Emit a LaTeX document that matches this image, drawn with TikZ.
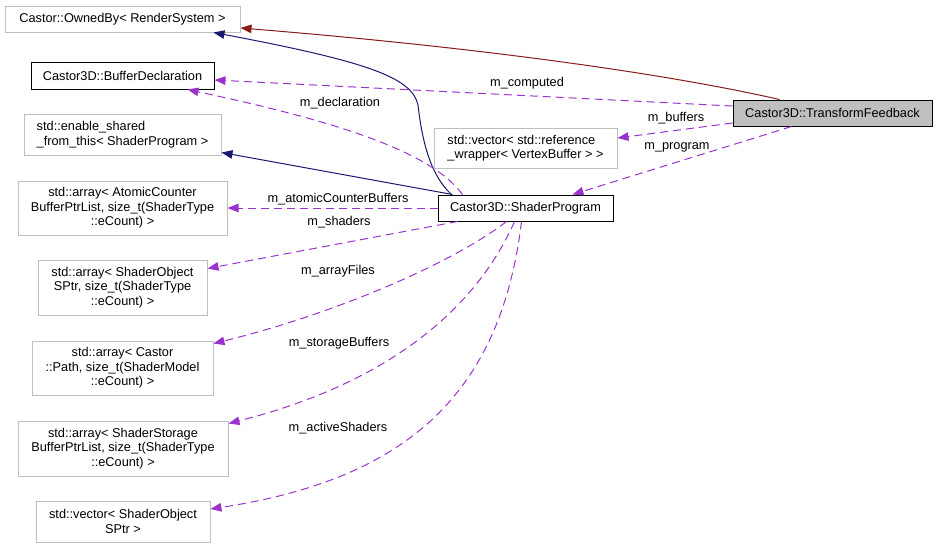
\documentclass[tikz,border=0pt]{standalone}
\usepackage{fontspec}
\setmainfont{Liberation Sans}
\usetikzlibrary{arrows.meta,calc}
\definecolor{navyc}{RGB}{25,25,112}
\definecolor{redc}{RGB}{139,26,26}
\definecolor{purc}{RGB}{154,50,205}
\definecolor{grayb}{RGB}{191,191,191}
\begin{document}
\begin{tikzpicture}[x=1pt,y=-1pt,
  every node/.style={font=\fontsize{12.75}{14.5}\selectfont},
  cbox/.style={draw=grayb,line width=1pt,rectangle,inner sep=0pt,align=center,fill=white},
  kbox/.style={cbox,draw=black},
  lbl/.style={inner sep=0pt},
  inh/.style={draw=navyc,line width=1pt,-{Triangle[length=11pt,width=8.5pt]}},
  inhr/.style={draw=redc,line width=1pt,-{Triangle[length=11pt,width=8.5pt]}},
  usg/.style={draw=purc,line width=1pt,dash pattern=on 8pt off 5pt,-{Triangle[length=11pt,width=8.5pt,fill=purc]}}
]
\useasboundingbox (0,0) rectangle (937,547);
% nodes
\node[cbox,minimum width=235pt,minimum height=26pt] (own) at (122.5,19) {Castor::OwnedBy< RenderSystem >};
\node[kbox,minimum width=183pt,minimum height=27pt] (bd) at (122.5,75.5) {Castor3D::BufferDeclaration};
\node[cbox,minimum width=197pt,minimum height=41pt,align=left] (esf) at (122.5,134.5) {std::enable\_shared\\\_from\_this< ShaderProgram >};
\node[cbox,minimum width=209pt,minimum height=54pt] (acb) at (122.5,208) {std::array< AtomicCounter\\BufferPtrList, size\_t(ShaderType\\::eCount) >};
\node[cbox,minimum width=169pt,minimum height=55pt] (soa) at (122.5,287.5) {std::array< ShaderObject\\SPtr, size\_t(ShaderType\\::eCount) >};
\node[cbox,minimum width=181pt,minimum height=54pt] (cp) at (122.5,368) {std::array< Castor\\::Path, size\_t(ShaderModel\\::eCount) >};
\node[cbox,minimum width=210pt,minimum height=55pt] (ssb) at (123,448.5) {std::array< ShaderStorage\\BufferPtrList, size\_t(ShaderType\\::eCount) >};
\node[cbox,minimum width=174pt,minimum height=41pt] (vso) at (123,521.5) {std::vector< ShaderObject\\SPtr >};
\node[kbox,fill=grayb,minimum width=199pt,minimum height=26pt] (tf) at (832.5,113) {Castor3D::TransformFeedback};
\node[cbox,minimum width=183pt,minimum height=40pt,align=left] (vrw) at (525.5,148) {std::vector< std::reference\\\_wrapper< VertexBuffer > >};
\node[kbox,minimum width=175pt,minimum height=26pt] (sp) at (525.5,208) {Castor3D::ShaderProgram};
% inheritance
\draw[inhr] ([xshift=47pt]tf.north west) .. controls (650,70) and (450,45) .. ([yshift=-9pt]own.east);
\draw[inh] ([xshift=14pt]sp.north west) .. controls (430,175) and (422,140) .. (418,105) .. controls (412,78) and (370,62) .. ([xshift=-27pt]own.south east);
\draw[inh] ([xshift=15pt]sp.north west) -- ([yshift=3pt]esf.south east);
% usage
\draw[usg] ([yshift=7pt]tf.west) -- ([yshift=-4.5pt]bd.east);
\node[lbl] (lcomp) at (527,83) {m\_computed};
\draw[usg] ([xshift=25pt]sp.north west) .. controls (430,150) and (330,120) .. ([xshift=-27pt]bd.south east);
\node[lbl] (ldecl) at (340,103) {m\_declaration};
\draw[usg] ([yshift=-10pt]tf.west) -- ([yshift=10pt]vrw.east);
\node[lbl] (lbuf) at (676,118) {m\_buffers};
\draw[usg] ([xshift=59pt]tf.south west) -- ([xshift=135pt]sp.north west);
\node[lbl] (lprog) at (677,147) {m\_program};
\draw[usg] (sp.west) -- (acb.east);
\node[lbl] (latom) at (338,199) {m\_atomicCounterBuffers};
\draw[usg] ([xshift=20pt]sp.south west) -- ([yshift=-9pt]soa.north east);
\node[lbl] (lsh) at (339,222) {m\_shaders};
\draw[usg] ([xshift=69pt]sp.south west) .. controls (450,265) and (330,315) .. ([yshift=-3pt]cp.north east);
\node[lbl] (laf) at (338,271) {m\_arrayFiles};
\draw[usg] ([xshift=77pt]sp.south west) .. controls (480,300) and (400,380) .. ([yshift=-3pt]ssb.north east);
\node[lbl] (lsb) at (339,343) {m\_storageBuffers};
\draw[usg] ([xshift=84pt]sp.south west) .. controls (500,400) and (400,480) .. ([yshift=-8.5pt]vso.north east);
\node[lbl] (las) at (338,428) {m\_activeShaders};
\end{tikzpicture}
\end{document}
